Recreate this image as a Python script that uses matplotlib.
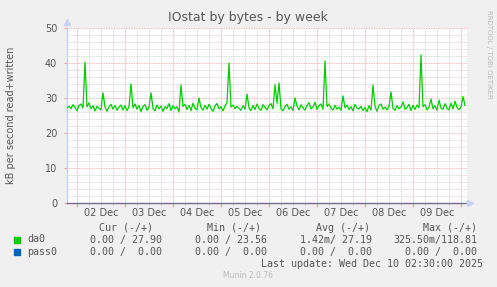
import numpy as np
import matplotlib
matplotlib.use("Agg")
import matplotlib.pyplot as plt
from matplotlib.patches import Rectangle

# hours relative to 02 Dec 00:00, one sample per hour
hours = np.arange(-5, 195)
da0_written = [
    27.2, 27.6, 27.0, 28.1, 27.3, 26.4, 27.8, 28.3, 27.1, 40.3,
    27.5, 28.6, 26.9, 27.8, 26.3, 27.6, 27.0, 26.6, 31.5, 27.4,
    26.2, 27.5, 28.2, 26.8, 27.9, 26.5, 27.4, 28.0, 26.6, 27.8,
    26.4, 27.5, 34.0, 27.2, 28.3, 26.8, 27.9, 26.1, 27.6, 28.1,
    26.5, 27.3, 31.5, 27.0, 26.3, 28.0, 26.9, 27.7, 26.2, 27.5,
    27.0, 28.4, 26.4, 27.8, 26.9, 27.5, 26.0, 33.7, 27.6, 28.2,
    26.7, 27.9, 26.4, 28.5, 27.1, 26.6, 30.0, 27.3, 26.5, 27.9,
    26.8, 28.2, 27.0, 26.2, 27.8, 28.4, 26.9, 27.5, 26.3, 27.7,
    28.6, 40.0, 27.4, 28.0, 26.9, 27.6, 27.1, 26.5, 27.8, 26.8,
    31.1, 27.2, 26.4, 27.9, 26.7, 28.3, 27.0, 26.5, 28.1, 27.3,
    26.6, 27.8, 28.4, 26.9, 33.8, 28.5, 34.3, 27.0, 26.3, 27.6,
    28.2, 26.8, 27.5, 26.4, 30.0, 27.7, 26.6, 28.1, 27.2, 26.5,
    27.9, 28.7, 26.9, 27.4, 28.8, 26.7, 27.8, 28.3, 26.8, 40.6,
    27.6, 28.3, 27.0, 26.6, 27.9, 26.8, 27.4, 26.5, 30.6, 27.2,
    28.0, 26.7, 27.5, 26.3, 28.2, 27.1, 26.9, 27.6, 26.4, 27.3,
    26.1, 27.8, 26.5, 33.7, 27.6, 26.2, 27.9, 28.3, 26.8, 27.4,
    26.6, 27.7, 31.7, 27.0, 26.5, 27.8, 26.9, 27.5, 28.9, 26.8,
    27.3, 28.2, 26.4, 27.9, 26.7, 28.0, 27.2, 42.3, 27.5, 28.1,
    26.6, 27.4, 29.7, 26.9, 27.8, 26.5, 29.4, 27.1, 26.8, 28.4,
    27.0, 26.6, 28.5, 26.9, 29.1, 27.3, 26.7, 27.5, 30.4, 27.9,
]

day_labels = ["02 Dec", "03 Dec", "04 Dec", "05 Dec", "06 Dec", "07 Dec", "08 Dec", "09 Dec"]
series_names = ["da0", "pass0"]
series_colors = ["#00CC00", "#0066B3"]
col_heads = ["Cur (-/+)", "Min (-/+)", "Avg (-/+)", "Max (-/+)"]
cur_vals = ["0.00 / 27.90", "0.00 /  0.00"]
min_vals = ["0.00 / 23.56", "0.00 /  0.00"]
avg_vals = ["1.42m/ 27.19", "0.00 /  0.00"]
max_vals = ["325.50m/118.81", "0.00 /  0.00"]

W, H = 497, 287
fig = plt.figure(figsize=(W / 100, H / 100), dpi=100, facecolor="#F0F0F0")
ax = fig.add_axes([67 / W, 1 - 203 / H, 400 / W, 175 / H])
ax.set_facecolor("white")

ax.plot(hours, da0_written, color=series_colors[0], lw=0.9, zorder=3)

ax.set_xlim(-5, 195)
ax.set_ylim(0, 50)
ax.set_xticks(np.arange(0, 195, 24))
ax.set_xticks(np.arange(-0, 195, 6), minor=True)
ax.set_xticklabels([])
ax.set_yticks(np.arange(0, 51, 10))
ax.set_yticks(np.arange(0, 51, 2), minor=True)

ax.grid(which="major", color="#E8A0A0", ls=(0, (1, 1)), lw=0.6)
ax.grid(which="minor", color="#CCCCCC", ls=(0, (1, 1)), lw=0.6)
ax.set_axisbelow(True)

ax.tick_params(axis="x", which="major", length=3, color="#E8A0A0", direction="out")
ax.tick_params(axis="x", which="minor", length=2, color="#D2D2D2", direction="out")
ax.tick_params(axis="y", which="major", length=2, color="#E8A0A0", labelsize=7,
               labelcolor="#555555", pad=5)
ax.tick_params(axis="y", which="minor", length=0)

for s in ["top", "right"]:
    ax.spines[s].set_visible(False)
ax.spines["left"].set_color("#C8CCEE")
ax.spines["bottom"].set_color("#6E6E8C")
ax.spines["left"].set_linewidth(1)
ax.spines["bottom"].set_linewidth(1)
ax.plot([-5], [51.6], marker="^", ms=4, color="#C8D0F4", clip_on=False, zorder=5)
ax.plot([196.6], [0], marker=">", ms=4, color="#C8D0F4", clip_on=False, zorder=5)

# day labels centred at noon
for k, lab in enumerate(day_labels):
    ax.text(12 + 24 * k, -0.055, lab, transform=ax.get_xaxis_transform(),
            ha="center", va="center", fontsize=7, color="#555555")

fig.text(248 / W, 1 - 18 / H, "IOstat by bytes - by week", ha="center", va="center",
         fontsize=9, color="#555555")
fig.text(11 / W, 1 - 115 / H, "kB per second read+written", rotation=90,
         ha="center", va="center", fontsize=7, color="#555555")
fig.text(489 / W, 1 - 54 / H, "RRDTOOL / TOBI OETIKER", rotation=270,
         ha="center", va="center", fontsize=5, color="#BBBBBB")

mono = "DejaVu Sans Mono"
head_x = [98.7, 207, 315.7, 423]
for hx, hd in zip(head_x, col_heads):
    fig.text(hx / W, 1 - 228 / H, hd, ha="left", va="center", family=mono,
             fontsize=7.2, color="#555555")

row_y = [239.5, 252]
val_ends = [161.7, 266.7, 372, 477.3]
for r, name in enumerate(series_names):
    y = 1 - row_y[r] / H
    fig.patches.append(Rectangle((14 / W, y - 3 / H), 6 / W, 6 / H,
                                 transform=fig.transFigure, color=series_colors[r]))
    fig.text(27 / W, y, name, ha="left", va="center", family=mono,
             fontsize=7.2, color="#555555")
    for xe, col in zip(val_ends, [cur_vals, min_vals, avg_vals, max_vals]):
        fig.text(xe / W, y, col[r], ha="right", va="center", family=mono,
                 fontsize=7.2, color="#555555")

fig.text(483 / W, 1 - 264 / H, "Last update: Wed Dec 10 02:30:00 2025", ha="right",
         va="center", family=mono, fontsize=7.2, color="#555555")
fig.text(248 / W, 1 - 276 / H, "Munin 2.0.76", ha="center", va="center",
         fontsize=5.5, color="#BBBBBB")

fig.savefig("out.png", dpi=100, facecolor=fig.get_facecolor())
